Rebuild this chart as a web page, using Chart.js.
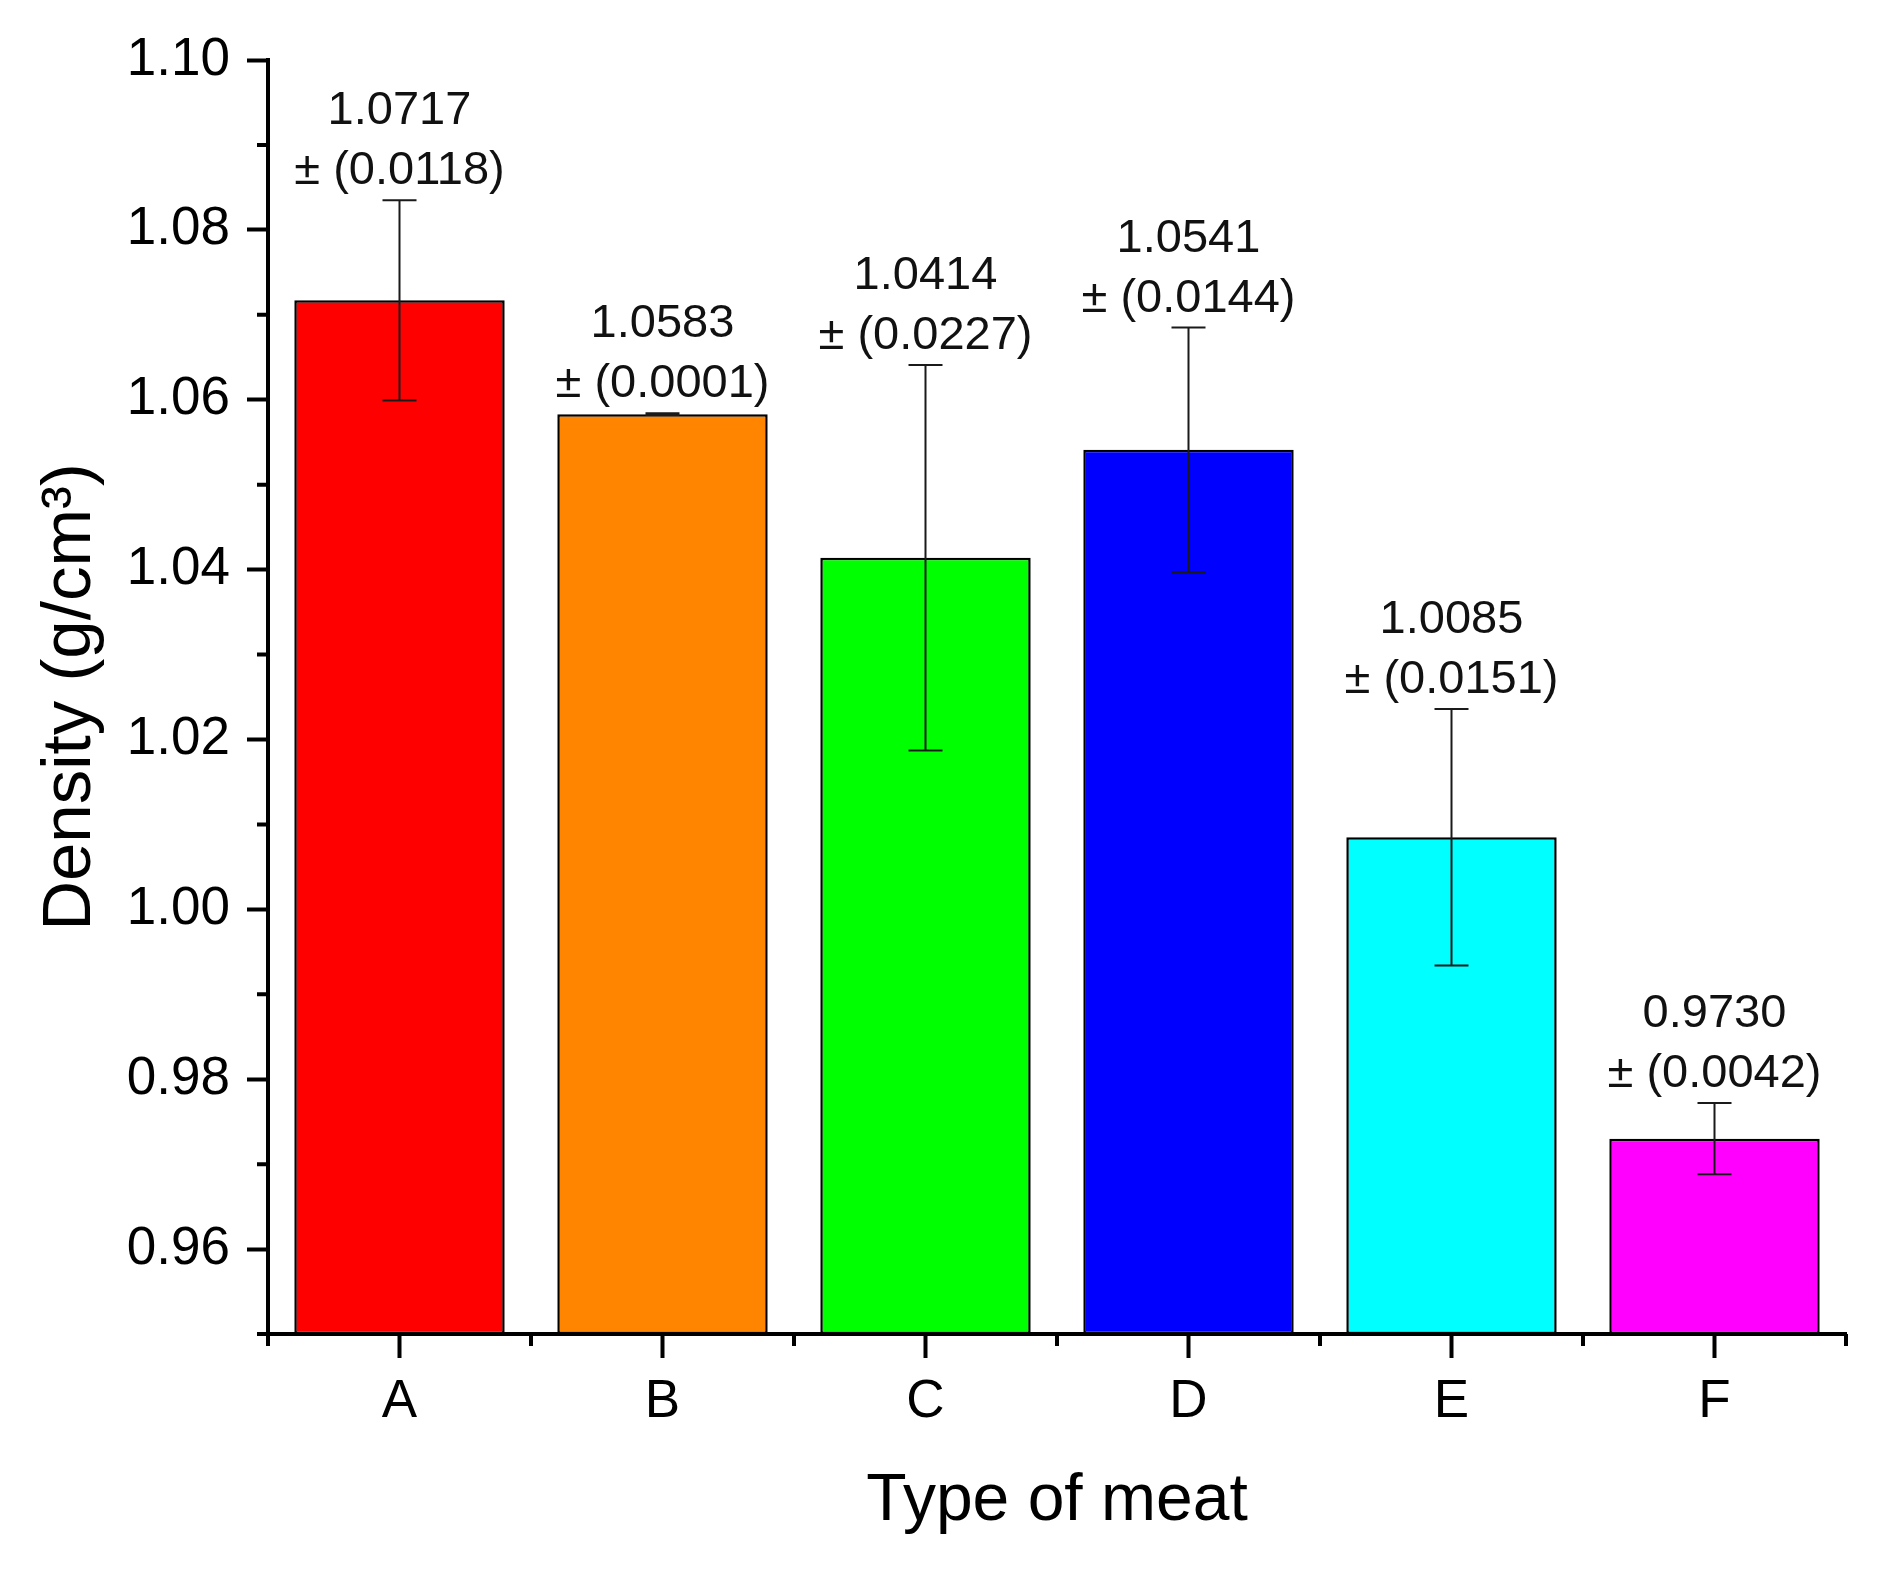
<!DOCTYPE html>
<html>
<head>
<meta charset="utf-8">
<title>Density by type of meat</title>
<script src="https://cdn.jsdelivr.net/npm/chart.js@4/dist/chart.umd.min.js"></script>
<style>
	body { margin: 0; background: #fff; }
	#Grafico { display: block; }
</style>
</head>
<body>
<canvas id="Grafico" width="1886" height="1571"></canvas>
<script>
	// datos
	const categorias = ["A", "B", "C", "D", "E", "F"]
	const densidad = [1.0717, 1.0583, 1.0414, 1.0541, 1.0085, 0.9730]
	const desvio = [0.0118, 0.0001, 0.0227, 0.0144, 0.0151, 0.0042]
	const colores = ["#ff0000", "#ff8400", "#00ff00", "#0000ff", "#00ffff", "#ff00ff"]

	// marcas del eje y
	const ticksY = [0.96, 0.98, 1.00, 1.02, 1.04, 1.06, 1.08, 1.10]
	const ticksMenoresY = [0.95, 0.97, 0.99, 1.01, 1.03, 1.05, 1.07, 1.09]

	const fuente = "'Liberation Sans', Arial, sans-serif"

	// dibuja las barras de error y los textos de cada barra
	const pluginError = {
		id: 'errores',
		afterDatasetsDraw(chart) {
			const ctx = chart.ctx
			const y = chart.scales.y
			const meta = chart.getDatasetMeta(0)
			ctx.save()
			meta.data.forEach((barra, i) => {
				const x = barra.x
				const arriba = y.getPixelForValue(densidad[i] + desvio[i])
				const abajo = y.getPixelForValue(densidad[i] - desvio[i])
				ctx.strokeStyle = '#1a1a1a'
				ctx.lineWidth = 2
				ctx.beginPath()
				ctx.moveTo(x, arriba); ctx.lineTo(x, abajo)
				ctx.moveTo(x - 17, arriba); ctx.lineTo(x + 17, arriba)
				ctx.moveTo(x - 17, abajo); ctx.lineTo(x + 17, abajo)
				ctx.stroke()

				ctx.fillStyle = '#111'
				ctx.font = "47px " + fuente
				ctx.textAlign = 'center'
				ctx.textBaseline = 'alphabetic'
				ctx.fillText(densidad[i].toFixed(4), x, arriba - 76)
				ctx.fillText("\u00b1 (" + desvio[i].toFixed(4) + ")", x, arriba - 16)
			})
			ctx.restore()
		},
		// marcas menores de los ejes
		afterDraw(chart) {
			const ctx = chart.ctx
			const y = chart.scales.y
			const x = chart.scales.x
			const area = chart.chartArea
			ctx.save()
			ctx.strokeStyle = '#000'
			ctx.lineWidth = 4
			ctx.beginPath()
			ticksMenoresY.forEach(v => {
				const py = y.getPixelForValue(v)
				ctx.moveTo(area.left - 11, py); ctx.lineTo(area.left, py)
			})
			for (let i = 0; i <= categorias.length; i++) {
				const px = x.getPixelForValue(i - 0.5)
				ctx.moveTo(px, area.bottom); ctx.lineTo(px, area.bottom + 12)
			}
			ctx.stroke()
			ctx.restore()
		}
	}

	const valores = {
		labels: categorias,
		datasets: [{
			label: 'Density',
			data: densidad,
			backgroundColor: colores,
			borderColor: '#000',
			borderWidth: 2.5,
			borderSkipped: false,
			base: 0.95,
			categoryPercentage: 1,
			barPercentage: 0.8
		}]
	}

	const options = {
		responsive: false,
		devicePixelRatio: 1,
		animation: false,
		layout: { padding: { top: 60, right: 40, left: 0, bottom: 0 } },
		plugins: {
			legend: { display: false },
			tooltip: { enabled: false }
		},
		scales: {
			x: {
				offset: true,
				grid: { display: true, offset: false, drawOnChartArea: false, tickLength: 24, tickWidth: 4, tickColor: '#000' },
				border: { display: true, color: '#000', width: 4 },
				ticks: { color: '#000', font: { family: fuente, size: 53 }, padding: 13 },
				title: { display: true, text: 'Type of meat', color: '#000', font: { family: fuente, size: 66 }, padding: { top: 0, bottom: 30 } },
				afterFit(scale) { scale.height = 237 }
			},
			y: {
				min: 0.95,
				max: 1.10,
				grid: { display: true, drawOnChartArea: false, tickLength: 21, tickWidth: 4, tickColor: '#000' },
				border: { display: true, color: '#000', width: 4 },
				ticks: {
					color: '#000',
					font: { family: fuente, size: 53 },
					padding: 17,
					callback: v => v.toFixed(2)
				},
				afterBuildTicks(scale) { scale.ticks = ticksY.map(v => ({ value: v })) },
				title: { display: true, text: 'Density (g/cm\u00b3)', color: '#000', font: { family: fuente, size: 69 }, padding: { top: 30, bottom: 0 } },
				afterFit(scale) { scale.width = 268 }
			}
		}
	}

	const grafico = new Chart(document.querySelector("#Grafico"), {
		type: 'bar',
		data: valores,
		options: options,
		plugins: [pluginError]
	})
</script>
</body>
</html>
